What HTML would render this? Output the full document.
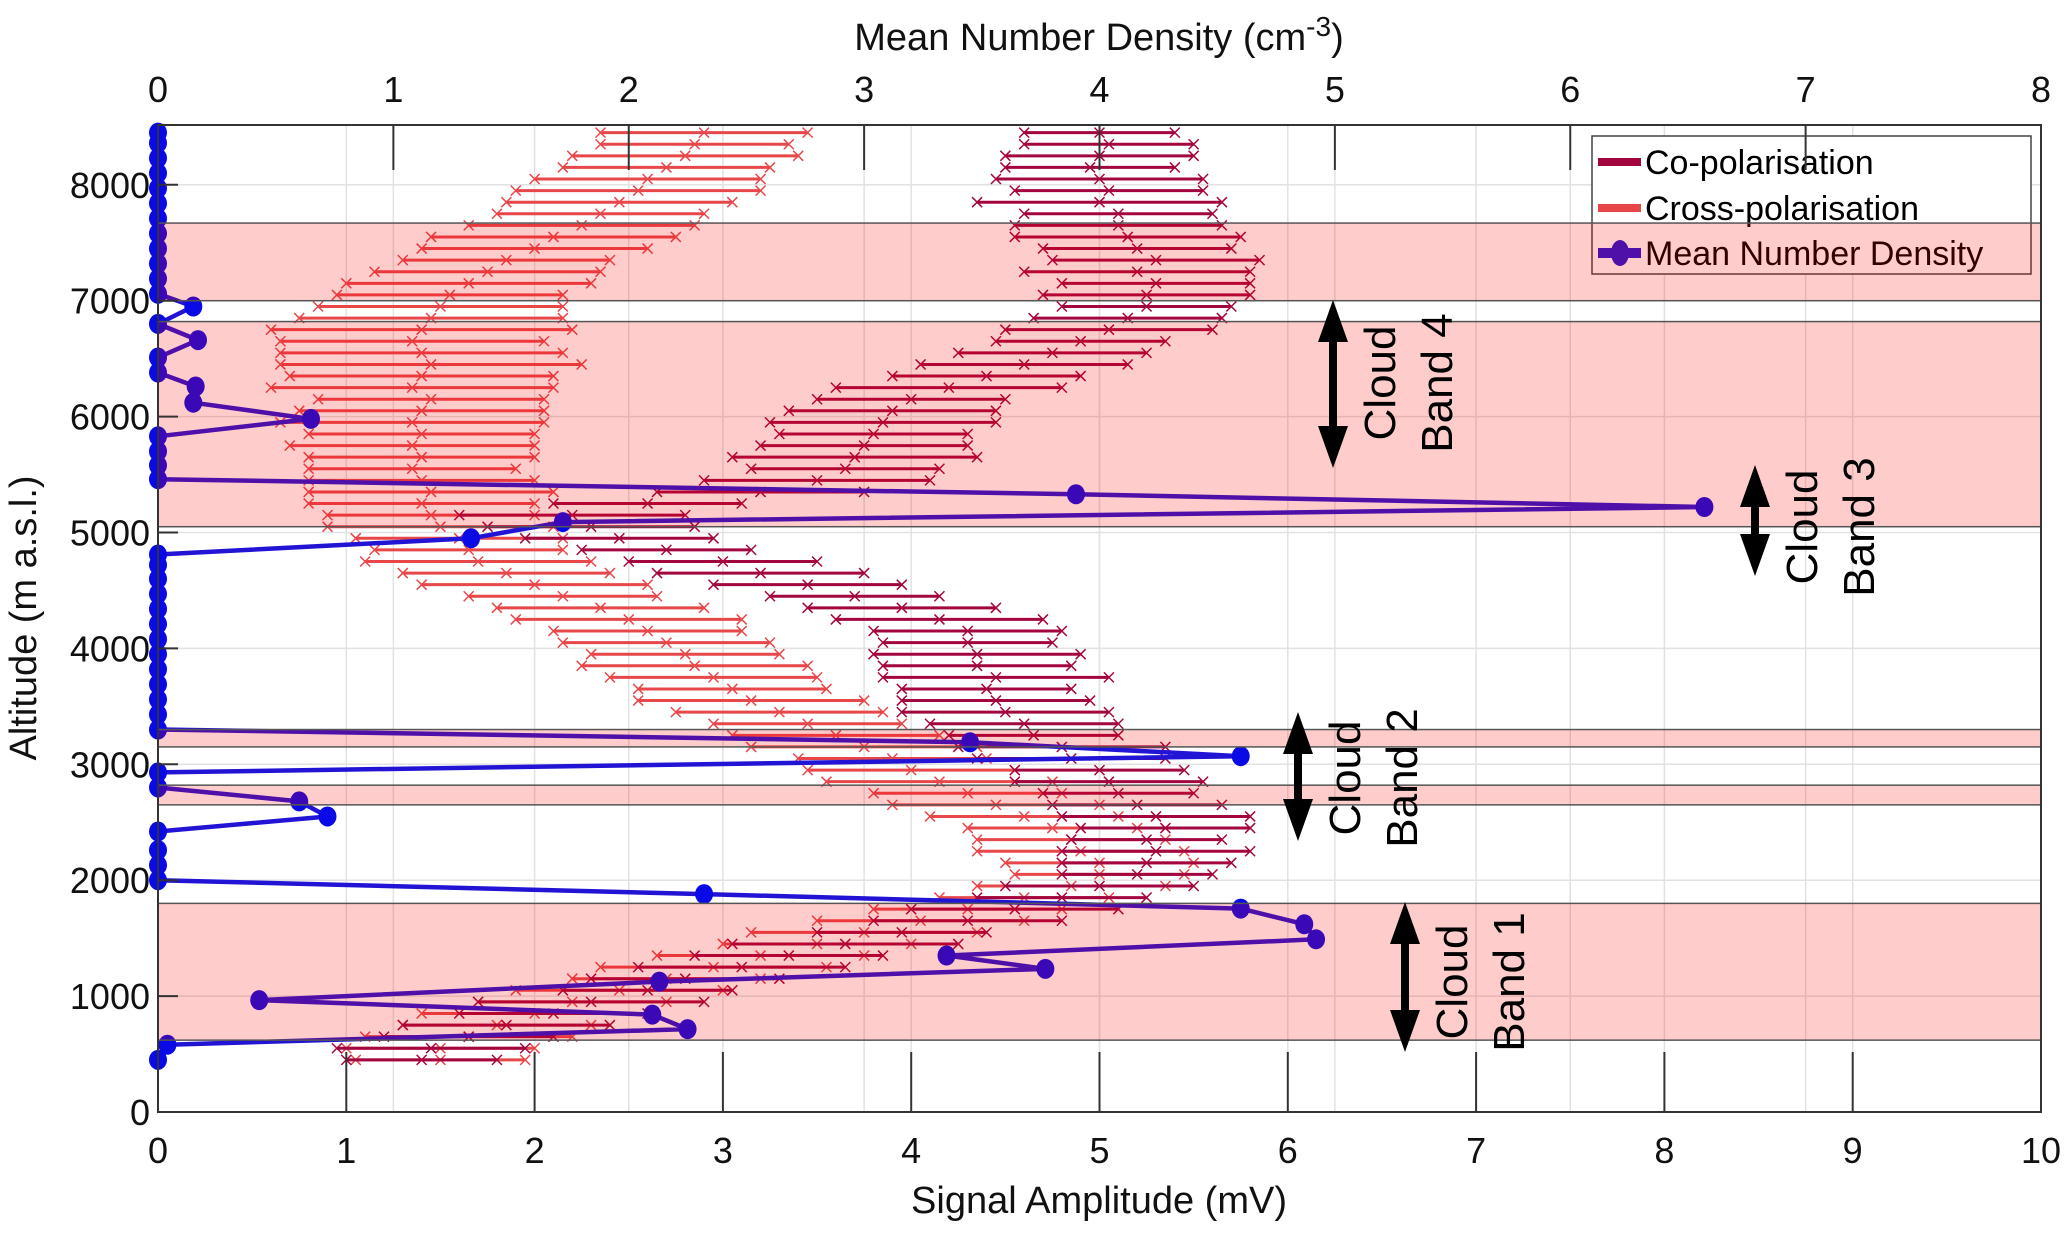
<!DOCTYPE html>
<html><head><meta charset="utf-8"><style>
html,body{margin:0;padding:0;background:#fff;}
svg{display:block;font-family:"Liberation Sans",Arial,sans-serif;}
</style></head><body>
<svg id="chart" width="2067" height="1235" viewBox="0 0 2067 1235" xmlns="http://www.w3.org/2000/svg">
<rect x="0" y="0" width="2067" height="1235" fill="#fff"/>
<g id="grid"></g>
<g id="series"></g>
<g id="legend"></g>
<g id="bands"></g>
<g id="axes"></g>
<g id="annot"></g>
</svg>
<script>
const altTicks = [0,1000,2000,3000,4000,5000,6000,7000,8000];
const mvTicks = [0,1,2,3,4,5,6,7,8,9,10];
const densTicks = [0,1,2,3,4,5,6,7,8];
const bandLow = [620,2650,3150,5050,7000];
const bandHigh = [1800,2820,3300,6820,7670];
const polAlt = [450,550,650,750,850,950,1050,1150,1250,1350,1450,1550,1650,1750,1850,1950,2050,2150,2250,2350,2450,2550,2650,2750,2850,2950,3050,3150,3250,3350,3450,3550,3650,3750,3850,3950,4050,4150,4250,4350,4450,4550,4650,4750,4850,4950,5050,5150,5250,5350,5450,5550,5650,5750,5850,5950,6050,6150,6250,6350,6450,6550,6650,6750,6850,6950,7050,7150,7250,7350,7450,7550,7650,7750,7850,7950,8050,8150,8250,8350,8450];
const coVal = [1.4,1.45,1.65,1.85,2.1,2.3,2.6,2.8,3.1,3.35,3.65,3.95,4.3,4.55,4.8,5.0,5.2,5.25,5.3,5.25,5.35,5.3,5.2,5.1,5.05,5.0,4.85,4.8,4.65,4.6,4.5,4.45,4.4,4.45,4.35,4.35,4.3,4.3,4.15,3.95,3.7,3.45,3.2,3.0,2.7,2.45,2.3,2.2,2.6,3.2,3.5,3.65,3.7,3.75,3.8,3.85,3.9,4.0,4.2,4.4,4.6,4.75,4.9,5.05,5.15,5.25,5.25,5.3,5.2,5.3,5.2,5.15,5.1,5.1,5.0,5.05,5.0,4.95,5.0,5.05,5.0];
const coErr = [0.4,0.5,0.45,0.55,0.5,0.6,0.45,0.5,0.55,0.5,0.6,0.45,0.5,0.55,0.45,0.5,0.4,0.45,0.5,0.4,0.45,0.5,0.45,0.4,0.5,0.45,0.5,0.55,0.45,0.5,0.55,0.5,0.45,0.6,0.5,0.55,0.45,0.5,0.55,0.5,0.45,0.5,0.55,0.5,0.45,0.5,0.55,0.6,0.5,0.55,0.6,0.5,0.65,0.55,0.5,0.6,0.55,0.5,0.6,0.5,0.55,0.5,0.45,0.55,0.5,0.45,0.55,0.5,0.6,0.55,0.5,0.6,0.55,0.5,0.65,0.5,0.55,0.45,0.5,0.45,0.4];
const crVal = [1.5,1.5,1.65,1.8,2.0,2.2,2.45,2.7,2.95,3.2,3.5,3.75,4.05,4.3,4.6,4.85,5.0,5.0,4.9,4.85,4.75,4.6,4.45,4.3,4.15,4.0,3.9,3.75,3.6,3.45,3.3,3.15,3.05,2.95,2.85,2.8,2.7,2.6,2.5,2.35,2.15,2.0,1.85,1.7,1.65,1.6,1.5,1.45,1.4,1.45,1.4,1.35,1.4,1.35,1.4,1.35,1.4,1.45,1.35,1.4,1.45,1.4,1.35,1.4,1.45,1.5,1.55,1.65,1.75,1.85,2.0,2.1,2.25,2.35,2.45,2.55,2.6,2.7,2.8,2.85,2.9];
const crErr = [0.45,0.5,0.55,0.5,0.6,0.5,0.55,0.5,0.6,0.55,0.5,0.6,0.55,0.5,0.45,0.5,0.45,0.5,0.55,0.5,0.45,0.5,0.55,0.5,0.6,0.55,0.5,0.6,0.55,0.5,0.55,0.6,0.5,0.55,0.6,0.5,0.55,0.5,0.6,0.55,0.5,0.6,0.55,0.6,0.5,0.55,0.6,0.55,0.6,0.65,0.6,0.55,0.6,0.65,0.6,0.7,0.65,0.6,0.75,0.7,0.8,0.75,0.7,0.8,0.7,0.65,0.6,0.65,0.6,0.55,0.6,0.65,0.6,0.55,0.6,0.65,0.6,0.55,0.6,0.5,0.55];
const denAlt = [450,580,715,840,965,1125,1235,1350,1490,1620,1755,1880,2000,2130,2260,2420,2550,2680,2800,2930,3070,3190,3300,3430,3560,3690,3820,3950,4080,4210,4340,4470,4600,4720,4810,4950,5090,5220,5330,5460,5580,5700,5830,5980,6120,6260,6380,6510,6660,6800,6950,7060,7190,7320,7450,7580,7710,7840,7970,8100,8230,8360,8450];
const denVal = [0,0.04,2.25,2.1,0.43,2.13,3.77,3.35,4.92,4.87,4.6,2.32,0,0,0,0,0.72,0.6,0,0,4.6,3.45,0,0,0,0,0,0,0,0,0,0,0,0,0,1.33,1.72,6.57,3.9,0,0,0,0,0.65,0.15,0.16,0,0,0.17,0,0.15,0,0,0,0,0,0,0,0,0,0,0,0];

const NS="http://www.w3.org/2000/svg";
const L=158,R=2041,T=125,B=1112;
const xm=v=>L+(v-0)/10*(R-L);
const xd=v=>L+(v-0)/8*(R-L);
const ya=a=>B-(a/8516)*(B-T);
function mk(tag,attrs,parent){const e=document.createElementNS(NS,tag);for(const k in attrs)e.setAttribute(k,attrs[k]);parent.appendChild(e);return e;}
const grid=document.getElementById('grid'),series=document.getElementById('series'),axes=document.getElementById('axes'),bands=document.getElementById('bands'),annot=document.getElementById('annot'),legend=document.getElementById('legend');

// grid
mvTicks.forEach(v=>{const g=mk('line',{x1:xm(v),x2:xm(v),y1:T,y2:B,stroke:'#e2e2e2','stroke-width':1.5},grid);

});
densTicks.forEach(v=>{const g=mk('line',{x1:xd(v),x2:xd(v),y1:T,y2:B,stroke:'#e2e2e2','stroke-width':1.5},grid);

});
altTicks.forEach(v=>{const g=mk('line',{x1:L,x2:R,y1:ya(v),y2:ya(v),stroke:'#e2e2e2','stroke-width':1.5},grid);

});

function xMark(x,y,c,s,p){mk('path',{d:`M${x-s},${y-s}L${x+s},${y+s}M${x-s},${y+s}L${x+s},${y-s}`,stroke:c,'stroke-width':1.5,fill:'none'},p);}
function errSeries(vals,errs,color,name){
  const g=mk('g',{},series);
  
  
  polAlt.forEach((a,i)=>{
    const y=ya(a),x0=xm(vals[i]-errs[i]),x1=xm(vals[i]+errs[i]),xc=xm(vals[i]);
    const bar=mk('g',{},g);
    
    
    mk('line',{x1:x0,x2:x1,y1:y,y2:y,stroke:color,'stroke-width':3},bar);
    xMark(x0,y,color,5,bar);xMark(x1,y,color,5,bar);xMark(xc,y,color,5,bar);
  });
}
errSeries(crVal,crErr,'#e8474a','cross-polarisation-series');
errSeries(coVal,coErr,'#a3063f','co-polarisation-series');

// density
const dg=mk('g',{},series);


const dl=mk('polyline',{points:denAlt.map((a,i)=>xd(denVal[i])+','+ya(a)).join(' '),fill:'none',stroke:'#2214d4','stroke-width':4.5,'stroke-linejoin':'round'},dg);


denAlt.forEach((a,i)=>{const c=mk('ellipse',{cx:xd(denVal[i]),cy:ya(a),rx:9,ry:10,fill:'#0a0ae6'},dg);

});

// legend
const lb=mk('rect',{x:1592,y:136,width:439,height:138,fill:'#fff',stroke:'#444','stroke-width':1.5},legend);


const leg=[['Co-polarisation','#a3063f',162,'legend-co'],['Cross-polarisation','#e8474a',208,'legend-cross'],['Mean Number Density','#2214d4',253,'legend-density']];
leg.forEach(e=>{
  const g=mk('g',{},legend);
  
  
  mk('line',{x1:1598,x2:1641,y1:e[2],y2:e[2],stroke:e[1],'stroke-width':e[3]==='legend-density'?10:8},g);
  if(e[3]==='legend-density')mk('ellipse',{cx:1620,cy:e[2],rx:9,ry:13,fill:e[1]},g);
  const t=mk('text',{x:1645,y:e[2]+12,'font-size':34,fill:'#000'},g);t.textContent=e[0];
});

// bands overlay
bandLow.forEach((lo,i)=>{
  const r=mk('rect',{x:L,y:ya(bandHigh[i]),width:R-L,height:ya(lo)-ya(bandHigh[i]),fill:'rgba(255,0,0,0.2)',stroke:'#555','stroke-width':1.5},bands);
  
  
});

// axes
mk('path',{d:`M${L},${T}H${R}V${B}H${L}Z`,fill:'none',stroke:'#333','stroke-width':2},axes);
mvTicks.forEach(v=>{
  mk('line',{x1:xm(v),x2:xm(v),y1:B,y2:B-60,stroke:'#333','stroke-width':2},axes);
  const t=mk('text',{x:xm(v),y:1163,'font-size':36,'text-anchor':'middle',fill:'#111'},axes);t.textContent=v;
  
  
});
densTicks.forEach(v=>{
  mk('line',{x1:xd(v),x2:xd(v),y1:T,y2:T+45,stroke:'#333','stroke-width':2},axes);
  const t=mk('text',{x:xd(v),y:102,'font-size':36,'text-anchor':'middle',fill:'#111'},axes);t.textContent=v;
  
  
});
altTicks.forEach(v=>{
  mk('line',{x1:L,x2:L+20,y1:ya(v),y2:ya(v),stroke:'#333','stroke-width':2},axes);
  const t=mk('text',{x:150,y:ya(v)+13,'font-size':36,'text-anchor':'end',fill:'#111'},axes);t.textContent=v;
  
  
});
const xt=mk('text',{x:1099,y:1213,'font-size':38,'text-anchor':'middle',fill:'#111'},axes);xt.textContent='Signal Amplitude (mV)';


const tt=mk('text',{x:1099,y:50,'font-size':38,'text-anchor':'middle',fill:'#111'},axes);
tt.innerHTML='Mean Number Density (cm<tspan dy="-14" font-size="28">-3</tspan><tspan dy="14">)</tspan>';


const yt=mk('text',{x:0,y:0,'font-size':38,'text-anchor':'middle',fill:'#111',transform:'translate(36,618) rotate(-90)'},axes);yt.textContent='Altitude (m a.s.l.)';



// annotations
const ann=[[1333,300,468,383,'Band 4'],[1755,465,576,527,'Band 3'],[1298,712,841,778,'Band 2'],[1405,902,1052,982,'Band 1']];
ann.forEach(a=>{
  const g=mk('g',{},annot);
  
  
  const [x,y0,y1]=a;
  mk('line',{x1:x,x2:x,y1:y0+35,y2:y1-35,stroke:'#000','stroke-width':8},g);
  mk('path',{d:`M${x},${y0}L${x-15},${y0+42}L${x+15},${y0+42}Z M${x},${y1}L${x-15},${y1-42}L${x+15},${y1-42}Z`,fill:'#000'},g);
  const t1=mk('text',{x:0,y:0,'font-size':44,'text-anchor':'middle',fill:'#000',transform:`translate(${x+62},${a[3]}) rotate(-90)`},g);t1.textContent='Cloud';
  const t2=mk('text',{x:0,y:0,'font-size':44,'text-anchor':'middle',fill:'#000',transform:`translate(${x+119},${a[3]}) rotate(-90)`},g);t2.textContent=a[4];
});
</script>
</body></html>
